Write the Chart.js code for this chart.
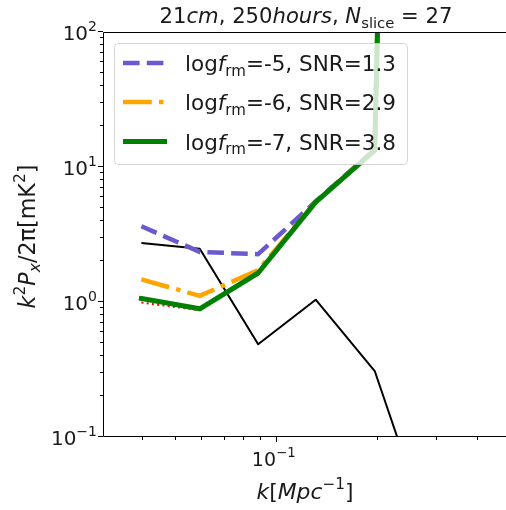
<!DOCTYPE html>
<html><head><meta charset="utf-8">
<script src="https://cdn.jsdelivr.net/npm/chart.js@4"></script>
<style>html,body{margin:0;padding:0;background:#fff}</style>
</head><body>
<div style="width:506px;height:510px"><canvas id="c" width="506" height="510"></canvas></div>
<script>
// ---- data ----
const kValues   = [0.0397, 0.0593, 0.0886, 0.1316, 0.1975, 0.294];
const signal    = [2.74, 2.48, 0.486, 1.04, 0.308, 0.017];
const fm5       = [3.64, 2.35, 2.26, 5.55, 13.5, 1e20];
const fm6       = [1.47, 1.11, 1.72, 5.5, 13.4, 1e20];
const fm7       = [1.06, 0.89, 1.64, 5.5, 13.3, 1e20];
const reference = [0.99, 0.87, 1.62, 5.45, 13.3, 1e20];
const xRange = [0.0307, 0.487];
const yRange = [0.1, 100];
const xMajorTicks = [0.1];
const xMajorExps  = ['\u22121'];
const yMajorTicks = [0.1, 1, 10, 100];
const yMajorExps  = ['\u22121', '0', '1', '2'];
const legendLabels = [
  [['log','n'],['f','i'],['rm','sub'],['=-5, SNR=1.3','n']],
  [['log','n'],['f','i'],['rm','sub'],['=-6, SNR=2.9','n']],
  [['log','n'],['f','i'],['rm','sub'],['=-7, SNR=3.8','n']]
];
const titleText = [['21','n'],['cm','i'],[', ','n'],['250','n'],['hours','i'],[', ','n'],['N','i'],['slice','sub'],[' = 27','n']];
const xLabelText = [['k','i'],['[','n'],['Mpc','i'],['\u22121','sup'],[']','n']];
const yLabelText = [['k','i'],['2','sup'],['P','i'],['x','subi'],['/2\u03c0[mK','n'],['2','sup'],[']','n']];

const pts = arr => arr.map((v,i)=>({x:kValues[i], y:v}));
const FONT = '"DejaVu Sans"';

function segFont(style, size){
  const small = style.startsWith('sub') || style.startsWith('sup');
  const it = style === 'i' || style.endsWith('i');
  const s = small ? size*0.7 : size;
  return {font:(it?'italic ':'') + s + 'px ' + FONT, dy: style.startsWith('sup') ? -0.45*size : (style.startsWith('sub') ? 0.22*size : 0)};
}
function richWidth(ctx, segs, size){
  let w = 0;
  for (const [t,s] of segs){ ctx.font = segFont(s,size).font; w += ctx.measureText(t).width; }
  return w;
}
function fitSize(ctx, segs, target){
  return 20 * target / richWidth(ctx, segs, 20);
}
function drawRich(ctx, segs, x, y, size, align){
  const w = richWidth(ctx, segs, size);
  let cx = align==='center' ? x - w/2 : (align==='right' ? x - w : x);
  ctx.textAlign = 'left'; ctx.textBaseline = 'alphabetic';
  for (const [t,s] of segs){
    const f = segFont(s,size);
    ctx.font = f.font;
    ctx.fillText(t, cx, y + f.dy);
    cx += ctx.measureText(t).width;
  }
}

const legendStyles = [
  {color:'#6a5acd', width:4.5, dash:[16.6,7.2]},
  {color:'#ffa500', width:4.5, dash:[28.8,7.2,4.5,7.2]},
  {color:'#008000', width:5, dash:[]}
];

const deco = {
  id:'deco',
  afterDatasetsDraw(chart){
    const {ctx, chartArea:a, scales:{x, y}} = chart;
    ctx.save();
    ctx.fillStyle = '#000';
    ctx.strokeStyle = '#000';
    ctx.lineWidth = 1;
    // spines
    ctx.beginPath();
    ctx.moveTo(a.left-0.5, a.top+0.5); ctx.lineTo(a.left-0.5, a.bottom-0.5);
    ctx.lineTo(a.right, a.bottom-0.5);
    ctx.moveTo(a.left-0.5, a.top+0.5); ctx.lineTo(a.right, a.top+0.5);
    ctx.stroke();
    // ticks
    ctx.beginPath();
    for (let d=-2; d<=0; d++){
      for (let m=1; m<=9; m++){
        const v = m*Math.pow(10,d);
        if (v < xRange[0] || v > xRange[1]) continue;
        const px = Math.round(x.getPixelForValue(v)) + 0.5;
        const len = m===1 ? 5 : 3;
        ctx.moveTo(px, a.bottom); ctx.lineTo(px, a.bottom+len);
      }
    }
    for (let d=-2; d<=2; d++){
      for (let m=1; m<=9; m++){
        const v = m*Math.pow(10,d);
        if (v < yRange[0]*0.999 || v > yRange[1]*1.001) continue;
        const py = Math.round(y.getPixelForValue(v)) - 0.5;
        const len = m===1 ? 5 : 3;
        ctx.moveTo(a.left-1, py); ctx.lineTo(a.left-1-len, py);
      }
    }
    ctx.stroke();
    // tick labels
    ctx.fillStyle = '#1a1a1a';
    xMajorTicks.forEach((v,i)=>{
      drawRich(ctx, [['10','n'],[xMajorExps[i],'sup']], x.getPixelForValue(v)-2, 466, 19, 'center');
    });
    yMajorTicks.forEach((v,i)=>{
      drawRich(ctx, [['10','n'],[yMajorExps[i],'sup']], 97, y.getPixelForValue(v)+8, 20, 'right');
    });
    // axis labels and title
    drawRich(ctx, xLabelText, (a.left+a.right)/2, 499, fitSize(ctx, xLabelText, 97), 'center');
    drawRich(ctx, titleText, 306, 23, fitSize(ctx, titleText, 293), 'center');
    ctx.save();
    ctx.translate(35, 236.5);
    ctx.rotate(-Math.PI/2);
    drawRich(ctx, yLabelText, 0, 0, fitSize(ctx, yLabelText, 144), 'center');
    ctx.restore();
    // legend
    ctx.beginPath();
    ctx.roundRect(114.5, 43.5, 293, 121, 4);
    ctx.fillStyle = 'rgba(255,255,255,0.8)';
    ctx.fill();
    ctx.strokeStyle = 'rgba(204,204,204,0.8)';
    ctx.lineWidth = 1;
    ctx.stroke();
    const rowY = [63, 102, 141.5];
    const legSize = fitSize(ctx, legendLabels[0], 211);
    legendStyles.forEach((st,i)=>{
      ctx.beginPath();
      ctx.strokeStyle = st.color; ctx.lineWidth = st.width;
      ctx.setLineDash(st.dash); ctx.lineCap = 'butt';
      ctx.moveTo(123, rowY[i]); ctx.lineTo(167, rowY[i]);
      ctx.stroke();
      ctx.setLineDash([]);
      ctx.fillStyle = '#1a1a1a';
      drawRich(ctx, legendLabels[i], 185, rowY[i]+8, legSize, 'left');
    });
    ctx.restore();
  }
};

const common = {pointRadius:0, tension:0, fill:false, clip:0, borderJoinStyle:'round'};
new Chart(document.getElementById('c'), {
  type:'line',
  data:{datasets:[
    Object.assign({label:'logf_rm=-7, SNR=3.8', data:pts(fm7), borderColor:'#008000', borderWidth:5, borderCapStyle:'square'}, common),
    Object.assign({label:'logf_rm=-6, SNR=2.9', data:pts(fm6), borderColor:'#ffa500', borderWidth:4.5, borderDash:legendStyles[1].dash}, common),
    Object.assign({label:'logf_rm=-5, SNR=1.3', data:pts(fm5), borderColor:'#6a5acd', borderWidth:4.5, borderDash:legendStyles[0].dash}, common),
    Object.assign({label:'reference', data:pts(reference), borderColor:'#ff0000', borderWidth:2, borderDash:[2,3.3]}, common),
    Object.assign({label:'signal', data:pts(signal), borderColor:'#000000', borderWidth:2}, common)
  ]},
  options:{
    responsive:false, animation:false, devicePixelRatio:1,
    layout:{padding:{top:32, left:0, right:0, bottom:0}},
    plugins:{legend:{display:false}, title:{display:false}, tooltip:{enabled:false}},
    scales:{
      x:{type:'logarithmic', min:xRange[0], max:xRange[1], grid:{display:false}, border:{display:false},
         ticks:{display:false}, afterFit(s){ s.height = 73; }},
      y:{type:'logarithmic', min:yRange[0], max:yRange[1], grid:{display:false}, border:{display:false},
         ticks:{display:false}, afterFit(s){ s.width = 104; }}
    }
  },
  plugins:[deco]
});
</script>
</body></html>
